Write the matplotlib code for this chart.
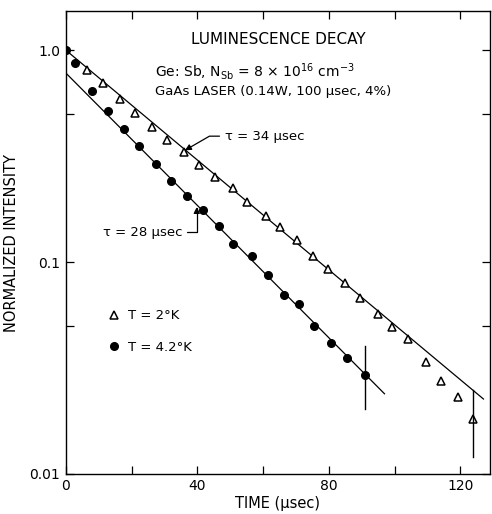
import numpy as np
import matplotlib
matplotlib.use("Agg")
import matplotlib.pyplot as plt
from matplotlib.ticker import NullLocator, FixedLocator, FixedFormatter

# T = 4.2 K (filled circles)
t_42 = [0, 2.7, 8.0, 12.9, 17.7, 22.3, 27.3, 32.0, 36.7, 41.8, 46.6, 50.8,
        56.6, 61.4, 66.2, 70.8, 75.5, 80.7, 85.6, 90.9]
i_42 = [1.0, 0.866, 0.641, 0.516, 0.424, 0.354, 0.290, 0.241, 0.205, 0.176,
        0.148, 0.122, 0.107, 0.0869, 0.0699, 0.0633, 0.0499, 0.0414, 0.0351,
        0.0293]

# T = 2 K (open triangles)
t_2 = [6.5, 11.4, 16.4, 21.1, 26.1, 30.8, 36.0, 40.5, 45.4, 50.8, 55.0, 60.9,
       65.1, 70.2, 75.0, 79.8, 85.0, 89.6, 94.8, 99.3, 103.9, 109.4, 114.1,
       119.3, 123.9]
i_2 = [0.811, 0.704, 0.587, 0.506, 0.432, 0.376, 0.332, 0.287, 0.252, 0.223,
       0.192, 0.165, 0.147, 0.127, 0.107, 0.0924, 0.0799, 0.0679, 0.0569,
       0.0495, 0.0432, 0.0339, 0.0275, 0.0230, 0.0181]

# exponential fits: amplitude, tau (usec), end time
fit_2 = (1.0, 33.5, 127.0)
fit_42 = (0.78, 27.8, 96.9)

# error bars (t, low, high)
err_42 = (90.9, 0.0203, 0.0401)
err_2 = (123.9, 0.0120, 0.0249)

xticks = [0, 20, 40, 60, 80, 100, 120]
xlabels = ["0", "", "40", "", "80", "", "120"]
yticks = [0.01, 0.05, 0.1, 0.5, 1.0]
ylabels = ["0.01", "", "0.1", "", "1.0"]

plt.rcParams["font.family"] = ["DejaVu Sans"]
plt.rcParams["mathtext.fontset"] = "dejavusans"

fig = plt.figure(figsize=(4.92, 5.14), dpi=100)
ax = fig.add_axes([0.134, 0.078, 0.862, 0.9])

for amp, tau, tend in (fit_2, fit_42):
    tt = np.linspace(0, tend, 200)
    ax.plot(tt, amp * np.exp(-tt / tau), color="black", lw=0.9)

ax.plot(t_2, i_2, ls="none", marker="^", ms=5.3, mfc="white", mec="black",
        mew=1.1, label="T = 2°K")
ax.plot(t_42, i_42, ls="none", marker="o", ms=5.5, color="black",
        label="T = 4.2°K")

for t, lo, hi in (err_42, err_2):
    ax.plot([t, t], [lo, hi], color="black", lw=1.0)

ax.set_yscale("log")
ax.set_xlim(0, 129)
ax.set_ylim(0.01, 1.527)
ax.xaxis.set_major_locator(FixedLocator(xticks))
ax.xaxis.set_major_formatter(FixedFormatter(xlabels))
ax.yaxis.set_major_locator(FixedLocator(yticks))
ax.yaxis.set_major_formatter(FixedFormatter(ylabels))
ax.yaxis.set_minor_locator(NullLocator())
ax.tick_params(direction="in", length=6, width=0.9, top=True, right=True,
               labelsize=10, pad=4)
for s in ax.spines.values():
    s.set_linewidth(1.0)

ax.set_xlabel("TIME (μsec)", fontsize=10.5, labelpad=2)
ax.set_ylabel("NORMALIZED INTENSITY", fontsize=10.5, labelpad=8)

ax.text(0.5, 0.938, "LUMINESCENCE DECAY", transform=ax.transAxes,
        ha="center", va="center", fontsize=11)
ax.text(0.21, 0.87, r"Ge: Sb, N$_{\mathrm{Sb}}$ = 8 × 10$^{16}$ cm$^{-3}$",
        transform=ax.transAxes, ha="left", va="center", fontsize=10)
ax.text(0.21, 0.826, "GaAs LASER (0.14W, 100 μsec, 4%)",
        transform=ax.transAxes, ha="left", va="center", fontsize=9.5)

ax.annotate("τ = 34 μsec", xy=(36.2, 0.337), xytext=(48.4, 0.393),
            ha="left", va="center", fontsize=9.5,
            arrowprops=dict(arrowstyle="-|>", color="black", lw=0.9,
                            connectionstyle="angle,angleA=0,angleB=30,rad=0",
                            relpos=(0, 0.5), shrinkA=2, shrinkB=0,
                            mutation_scale=9))
ax.annotate("τ = 28 μsec", xy=(39.8, 0.182), xytext=(35.6, 0.1385),
            ha="right", va="center", fontsize=9.5,
            arrowprops=dict(arrowstyle="-|>", color="black", lw=0.9,
                            connectionstyle="angle,angleA=0,angleB=-90,rad=0",
                            relpos=(1, 0.5), shrinkA=1, shrinkB=0,
                            mutation_scale=9))

ax.legend(loc="upper left", bbox_to_anchor=(0.08, 0.37), frameon=False,
          fontsize=9.5, handletextpad=0.4, labelspacing=1.4, handlelength=1.2,
          borderpad=0)

fig.savefig("out.png", dpi=100)
